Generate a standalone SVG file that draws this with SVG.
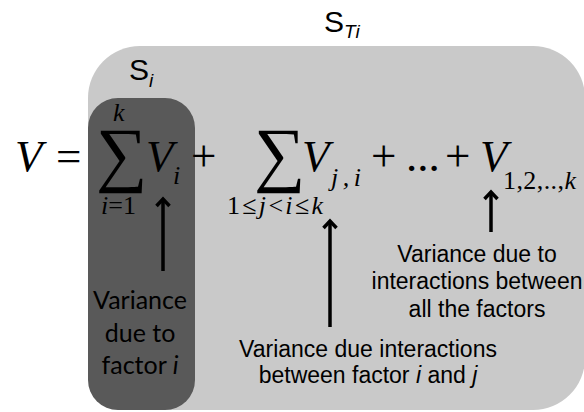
<svg xmlns="http://www.w3.org/2000/svg" width="584" height="412" viewBox="0 0 584 412">
<style>
.m{font-family:"Liberation Serif","Times New Roman",serif;fill:#000}
.it{font-style:italic}
.big{font-size:45px}
.sub{font-size:26px}
.sig{font-size:72px}
.lab{font-family:"Liberation Sans",Arial,sans-serif;font-size:23px;fill:#000;text-anchor:middle}
.cal{font-family:Lato,"Open Sans",sans-serif;font-size:25px;fill:#000;text-anchor:middle}
.ttl{font-family:"Liberation Sans",Arial,sans-serif;fill:#000}
.arr{stroke:#000;stroke-width:3.5;fill:none;marker-end:url(#ah)}
</style>
<defs>
<marker id="ah" viewBox="-10 -10 20 20" refX="0" refY="0" markerWidth="20" markerHeight="20" markerUnits="userSpaceOnUse" orient="auto">
<path d="M-7,-6.5 L0,0 L-7,6.5" fill="none" stroke="#000" stroke-width="3.5" stroke-linejoin="miter" stroke-miterlimit="10"/>
</marker>
</defs>
<g id="box-STi">
<rect x="88" y="46" width="497" height="364" rx="52" ry="52" fill="#c9c9c9"/>
<text class="ttl" x="324" y="32" font-size="30">S<tspan font-size="19" font-style="italic" dy="6">Ti</tspan></text>
</g>
<g id="box-Si">
<rect x="88" y="98" width="107" height="312" rx="30" ry="30" fill="#595959"/>
<text class="ttl" x="129" y="80" font-size="30">S<tspan font-size="19" font-style="italic" dy="7">i</tspan></text>
</g>
<g id="equation">
<text class="m it big" x="15" y="171">V</text>
<text class="m big" x="56" y="171">=</text>
<text class="m sig" x="96" y="178">∑</text>
<text class="m it sub" x="113" y="121">k</text>
<text class="m sub" x="101" y="214"><tspan class="it">i</tspan>=1</text>
<text class="m it big" x="146" y="171">V</text>
<text class="m it sub" x="173" y="184">i</text>
<text class="m big" x="191" y="171">+</text>
<text class="m sig" x="254" y="178">∑</text>
<text class="m sub" x="227" y="214" textLength="96" lengthAdjust="spacing">1≤<tspan class="it">j</tspan>&lt;<tspan class="it">i</tspan>≤<tspan class="it">k</tspan></text>
<text class="m it big" x="302" y="171">V</text>
<text class="m it sub" x="331" y="186" textLength="30" lengthAdjust="spacing">j,i</text>
<text class="m big" x="371" y="171">+</text>
<text class="m big" x="406" y="171">...</text>
<text class="m big" x="445" y="171">+</text>
<text class="m it big" x="480" y="171">V</text>
<text class="m sub" x="503" y="189" textLength="73" lengthAdjust="spacing">1,2,..,<tspan class="it">k</tspan></text>
</g>
<g id="arrows">
<line class="arr" x1="163" y1="271" x2="163" y2="199"/>
<line class="arr" x1="330" y1="327" x2="330" y2="221"/>
<line class="arr" x1="491" y1="232" x2="491" y2="192"/>
</g>
<g id="label-Vi">
<text class="cal" x="140" y="309">Variance</text>
<text class="cal" x="140" y="342">due to</text>
<text class="cal" x="140" y="374">factor <tspan font-style="italic">i</tspan></text>
</g>
<g id="label-Vji">
<text class="lab" x="368" y="357">Variance due interactions</text>
<text class="lab" x="368" y="383">between factor <tspan font-style="italic">i</tspan> and <tspan font-style="italic">j</tspan></text>
</g>
<g id="label-V12k">
<text class="lab" x="477" y="262">Variance due to</text>
<text class="lab" x="477" y="289">interactions between</text>
<text class="lab" x="477" y="317">all the factors</text>
</g>
</svg>
